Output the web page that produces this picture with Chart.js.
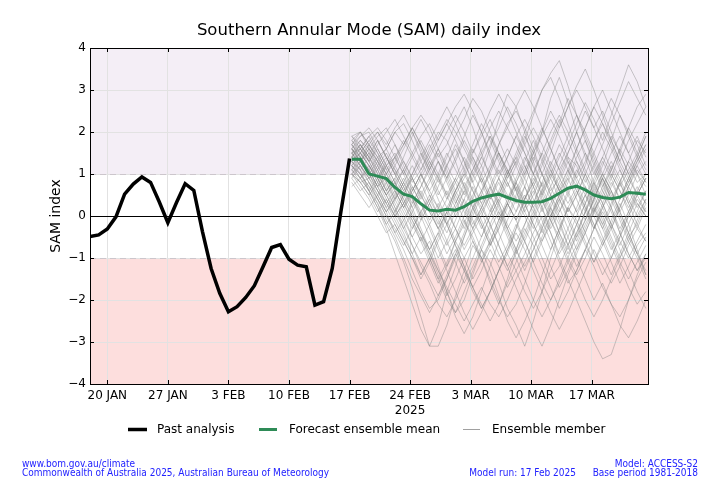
<!DOCTYPE html>
<html>
<head>
<meta charset="utf-8">
<script src="https://cdn.jsdelivr.net/npm/chart.js@4/dist/chart.umd.min.js"></script>
<style>
  html, body { margin: 0; padding: 0; background: #fff; }
  #wrap { position: relative; width: 720px; height: 480px; }
  .foot { position: absolute; color: #2222ff; font-family: "DejaVu Sans Condensed", "DejaVu Sans", sans-serif; font-size: 10px; line-height: 9px; white-space: nowrap; }
</style>
</head>
<body>
<div id="wrap">
  <canvas id="sam_chart" width="720" height="480"></canvas>
  <div class="foot" style="left:22px; top:458.5px;">www.bom.gov.au/climate<br>Commonwealth of Australia 2025, Australian Bureau of Meteorology</div>
  <div class="foot" style="right:144px; top:467.5px; text-align:right;">Model run: 17 Feb 2025</div>
  <div class="foot" style="right:22px; top:458.5px; text-align:right;">Model: ACCESS-S2<br>Base period 1981-2018</div>
</div>
<script>
// days counted from 18 Jan 2025
const tickDays = [2, 9, 16, 23, 30, 37, 44, 51, 58];
const tickLabels = ['20 JAN', '27 JAN', '3 FEB', '10 FEB', '17 FEB', ['24 FEB', '2025'], '3 MAR', '10 MAR', '17 MAR'];
const forecastStart = 30.25;

// past analysis, 18 Jan - 17 Feb
const pastAnalysis = [-0.49, -0.45, -0.31, -0.02, 0.52, 0.76, 0.93, 0.80, 0.34, -0.16, 0.32, 0.77, 0.61, -0.37,
  -1.25, -1.84, -2.28, -2.16, -1.94, -1.66, -1.21, -0.75, -0.68, -1.03, -1.17, -1.21, -2.12, -2.04, -1.25, 0.10, 1.37];

// forecast ensemble mean, 17 Feb - 23 Mar
const ensembleMean = [1.35, 1.35, 1.00, 0.95, 0.89, 0.68, 0.52, 0.46, 0.29, 0.14, 0.12, 0.16, 0.14, 0.22, 0.35, 0.43,
  0.48, 0.52, 0.44, 0.37, 0.33, 0.33, 0.34, 0.42, 0.54, 0.66, 0.71, 0.62, 0.50, 0.44, 0.41, 0.45, 0.56, 0.54, 0.52];

// ensemble members (a subset), 17 Feb - 23 Mar
const members = [
  [1.5, 1.8, 1.6, 1.9, 2.1, 1.7, 1.2, 0.8, 1.1, 1.6, 2.0, 1.8, 1.3, 0.7, 0.2, 0.5, 1.1, 1.7, 2.2, 2.5, 2.1, 1.6, 1.0, 0.6, 0.9, 1.4, 1.2, 0.6, 0.1, -0.3, 0.2, 0.8, 1.3, 1.0, 0.7],
  [1.2, 1.0, 0.7, 0.3, -0.2, -0.6, -1.1, -1.7, -2.4, -3.1, -2.6, -1.8, -1.2, -0.5, 0.1, 0.6, 0.2, -0.4, -0.9, -0.3, 0.4, 1.0, 1.5, 1.1, 0.6, 0.9, 1.4, 1.8, 1.3, 0.8, 0.2, -0.4, -0.9, -1.3, -1.0],
  [1.9, 2.0, 1.7, 1.4, 1.6, 2.0, 2.2, 1.8, 1.3, 0.9, 0.4, -0.1, -0.6, -0.2, 0.4, 1.0, 1.6, 2.3, 2.9, 2.6, 2.0, 1.3, 0.7, 0.2, -0.4, -0.9, -0.5, 0.1, 0.7, 1.2, 1.8, 2.4, 2.0, 1.5, 1.1],
  [1.0, 0.8, 0.9, 0.5, 0.1, 0.4, 0.0, -0.5, -0.9, -0.6, -1.2, -1.8, -2.3, -2.0, -1.4, -0.8, -1.1, -1.6, -2.2, -2.6, -3.1, -2.5, -1.8, -1.0, -0.4, 0.2, -0.1, -0.6, -1.1, -0.7, -0.2, 0.3, -0.2, -0.8, -1.4],
  [1.6, 1.3, 1.5, 1.1, 0.6, 0.9, 1.4, 1.9, 2.3, 1.9, 1.4, 1.7, 2.2, 2.6, 2.1, 1.5, 0.9, 0.3, -0.3, 0.1, 0.7, 1.3, 2.0, 2.8, 3.3, 2.7, 2.0, 1.4, 0.8, 0.4, 0.9, 1.5, 2.1, 2.6, 2.9],
  [1.4, 1.1, 0.6, 0.2, -0.3, -0.9, -1.5, -2.1, -2.7, -3.1, -3.1, -2.6, -1.9, -1.3, -0.7, -1.0, -1.6, -2.1, -1.5, -0.8, -0.2, 0.3, 0.8, 0.4, -0.1, -0.7, -1.2, -0.8, -0.3, 0.2, 0.6, 0.1, -0.4, -0.9, -0.5],
  [1.3, 1.5, 1.2, 0.9, 1.2, 0.8, 0.3, 0.6, 1.0, 0.5, 0.0, -0.4, 0.1, 0.6, 1.1, 1.5, 1.9, 1.4, 0.9, 1.3, 1.8, 2.4, 3.0, 3.4, 3.7, 3.1, 2.4, 1.8, 1.2, 0.7, 1.1, 1.6, 1.2, 0.8, 1.0],
  [0.8, 0.5, 0.2, 0.5, 0.1, -0.4, -0.8, -1.3, -1.8, -2.2, -2.0, -1.5, -0.9, -0.4, 0.2, -0.2, -0.7, -0.3, 0.3, 0.8, 1.2, 0.7, 0.2, -0.4, -1.0, -1.5, -2.0, -2.5, -3.0, -3.4, -3.3, -2.7, -2.0, -1.4, -0.9],
  [1.7, 1.9, 2.0, 1.6, 1.2, 1.4, 1.0, 0.5, 0.1, 0.4, 0.9, 1.4, 1.9, 2.3, 2.8, 2.5, 2.0, 1.5, 1.0, 0.6, 0.1, -0.3, 0.2, 0.7, 1.2, 1.7, 2.2, 2.7, 2.3, 1.8, 2.4, 3.0, 3.6, 3.2, 2.6],
  [1.1, 0.9, 1.1, 0.7, 0.3, 0.0, 0.3, -0.1, -0.6, -1.1, -1.6, -1.2, -0.6, -0.1, -0.5, -1.0, -1.5, -2.0, -2.4, -2.1, -1.6, -1.0, -0.5, 0.0, 0.4, 0.0, -0.5, -0.1, 0.4, 0.9, 0.5, 0.0, -0.5, -0.2, 0.3],
  [1.5, 1.6, 1.9, 2.1, 1.8, 1.4, 1.7, 2.1, 1.7, 1.2, 0.8, 1.2, 1.6, 1.1, 0.6, 0.1, -0.4, -0.9, -1.3, -0.9, -0.4, 0.1, 0.6, 1.0, 0.6, 0.1, 0.5, 1.0, 1.5, 2.0, 1.6, 1.1, 0.6, 0.2, 0.6],
  [1.3, 1.0, 0.6, 0.9, 0.5, 0.8, 0.4, 0.0, -0.4, -0.8, -1.3, -1.8, -2.4, -2.8, -2.4, -1.8, -1.2, -0.6, -0.1, 0.4, 0.0, -0.5, -1.0, -1.5, -1.2, -0.7, -0.2, 0.3, 0.8, 1.3, 0.9, 0.4, 0.8, 1.3, 1.7],
  [1.8, 1.6, 1.3, 1.7, 2.0, 2.3, 1.9, 1.5, 1.1, 1.5, 1.9, 2.3, 2.0, 1.6, 1.2, 0.8, 1.2, 1.7, 2.1, 1.7, 1.2, 0.7, 0.2, -0.3, 0.1, 0.6, 1.1, 0.7, 0.2, -0.3, -0.8, -0.4, 0.1, 0.6, 0.3],
  [1.2, 1.4, 1.1, 0.7, 0.9, 0.5, 0.1, -0.3, 0.1, 0.5, 0.2, -0.2, -0.7, -1.2, -1.7, -2.2, -1.8, -1.3, -0.8, -0.3, 0.2, 0.7, 1.2, 1.7, 2.2, 2.8, 2.4, 1.9, 1.4, 0.9, 0.4, 0.8, 1.3, 1.8, 1.5],
  [0.9, 1.2, 0.8, 0.4, 0.0, -0.4, -0.1, 0.3, 0.7, 1.1, 1.6, 2.0, 2.4, 2.0, 1.5, 1.9, 2.3, 1.8, 1.3, 0.8, 0.3, -0.2, -0.7, -1.2, -1.7, -1.3, -0.8, -0.3, 0.2, -0.2, -0.7, -1.2, -1.7, -2.1, -1.8],
  [1.6, 1.4, 1.0, 1.3, 0.9, 0.4, 0.8, 1.2, 0.8, 0.3, -0.2, 0.2, 0.6, 1.0, 0.6, 0.2, 0.6, 1.1, 0.7, 1.2, 1.7, 2.1, 1.7, 1.2, 0.7, 0.3, 0.7, 1.2, 1.8, 2.3, 2.8, 2.4, 1.9, 1.4, 1.0],
  [1.4, 1.7, 1.4, 1.0, 0.6, 0.2, -0.2, -0.7, -1.2, -1.6, -2.1, -2.4, -2.0, -1.5, -1.0, -0.5, 0.0, 0.4, 0.9, 1.3, 0.9, 0.4, -0.1, -0.6, -1.1, -1.6, -1.3, -0.8, -1.2, -1.7, -2.1, -2.4, -2.0, -1.5, -1.1],
  [1.1, 1.3, 1.6, 1.3, 1.6, 2.0, 1.7, 2.1, 2.4, 2.1, 1.6, 1.1, 0.6, 0.2, -0.3, 0.1, 0.5, 0.1, -0.4, -0.9, -0.5, 0.0, 0.5, 1.0, 1.5, 1.1, 0.6, 0.1, 0.5, 1.0, 0.6, 0.1, -0.4, -0.9, -1.4],
  [1.7, 1.4, 1.1, 0.7, 1.0, 0.6, 0.2, 0.5, 0.0, -0.5, -1.0, -0.6, -0.1, 0.4, 0.9, 1.4, 1.0, 0.5, 1.0, 1.5, 2.0, 2.5, 3.0, 3.3, 2.8, 2.2, 1.6, 1.1, 0.7, 0.3, -0.2, -0.6, -1.0, -0.6, -0.2],
  [1.0, 0.7, 0.4, 0.0, -0.4, -0.2, -0.6, -1.0, -1.4, -1.0, -0.5, 0.0, 0.5, 0.1, -0.3, -0.8, -1.3, -1.9, -2.5, -2.9, -2.5, -2.0, -1.4, -0.8, -0.3, 0.2, 0.6, 0.2, -0.2, -0.6, -1.1, -1.6, -1.2, -0.7, -0.4],
  [1.5, 1.2, 1.5, 1.8, 1.4, 1.0, 1.3, 0.9, 0.4, 0.8, 1.3, 0.9, 0.4, -0.1, -0.6, -1.1, -0.7, -0.2, 0.3, -0.1, 0.4, 0.9, 0.5, 0.0, 0.5, 1.0, 1.6, 2.1, 2.6, 2.2, 1.7, 1.2, 0.8, 1.2, 1.6],
  [1.3, 1.1, 0.8, 0.5, 0.8, 1.2, 1.6, 2.0, 1.6, 1.1, 1.5, 1.0, 0.5, 0.9, 1.4, 1.0, 0.5, 0.0, -0.5, -1.0, -1.5, -2.0, -2.4, -2.0, -1.5, -1.0, -0.4, 0.1, -0.3, 0.2, 0.7, 1.1, 0.7, 0.3, 0.0],
  [1.8, 2.0, 1.6, 1.2, 0.8, 0.4, 0.7, 0.2, -0.3, -0.8, -0.4, 0.1, 0.6, 1.0, 1.5, 2.0, 2.5, 2.9, 2.5, 2.0, 1.5, 1.0, 0.5, 0.9, 1.4, 1.9, 2.4, 2.0, 1.5, 1.0, 0.6, 0.1, 0.5, 1.0, 1.3],
  [0.7, 0.9, 0.6, 0.3, -0.1, -0.5, -1.0, -1.5, -1.9, -2.3, -1.9, -1.4, -0.9, -1.3, -1.8, -2.2, -1.8, -1.3, -0.8, -0.4, -0.8, -1.3, -1.8, -2.3, -2.7, -2.3, -1.8, -1.3, -0.8, -1.2, -1.6, -1.2, -0.7, -0.3, -0.6],
  [1.4, 1.3, 1.0, 0.6, 0.2, 0.5, 0.9, 0.5, 0.9, 1.3, 0.9, 0.4, 0.8, 0.3, -0.2, 0.2, 0.7, 0.3, -0.2, -0.6, -0.2, 0.3, 0.8, 1.3, 0.9, 0.5, 0.1, -0.4, -0.9, -1.4, -1.0, -0.5, 0.0, 0.4, 0.1],
  [1.6, 1.9, 2.1, 1.8, 1.4, 1.1, 0.7, 1.0, 1.4, 1.8, 2.2, 2.6, 2.2, 1.7, 1.3, 0.8, 0.3, -0.1, 0.3, 0.8, 0.4, 0.8, 1.3, 1.8, 2.3, 1.8, 1.3, 0.8, 1.2, 1.7, 2.2, 2.7, 3.2, 2.8, 2.4],
  [1.2, 0.9, 1.2, 0.8, 0.4, 0.0, -0.4, -0.9, -1.4, -1.0, -1.5, -2.0, -2.3, -1.8, -1.3, -0.8, -0.3, 0.1, -0.3, -0.8, -1.2, -0.8, -0.3, 0.2, 0.7, 1.1, 0.7, 0.2, -0.3, 0.1, -0.3, -0.8, -1.3, -1.8, -2.2],
  [1.5, 1.7, 1.3, 1.6, 1.2, 0.8, 1.1, 1.5, 1.9, 2.2, 1.8, 2.2, 2.6, 2.9, 2.5, 2.0, 1.5, 1.0, 1.4, 1.9, 1.5, 1.0, 0.6, 0.1, -0.4, -0.8, -0.4, 0.1, 0.6, 0.2, -0.3, 0.2, 0.7, 1.1, 0.8],
  [1.0, 1.2, 0.9, 1.2, 0.8, 0.3, -0.1, -0.5, -0.1, 0.3, -0.1, -0.6, -1.1, -1.6, -1.2, -0.7, -0.2, 0.3, 0.8, 0.4, 0.9, 1.4, 1.0, 0.5, 0.1, 0.5, 1.0, 1.5, 1.1, 0.6, 0.2, -0.3, 0.1, 0.5, 0.9],
  [1.9, 1.7, 1.4, 1.1, 1.4, 1.0, 0.6, 0.2, 0.6, 0.2, -0.3, -0.7, -0.3, 0.2, 0.7, 0.3, -0.2, -0.7, -1.2, -1.7, -2.2, -2.7, -3.1, -2.6, -2.0, -1.4, -0.9, -0.4, 0.1, 0.5, 0.1, -0.4, -0.9, -1.3, -0.9],
  [1.3, 1.6, 1.9, 1.5, 1.1, 1.4, 1.8, 1.4, 1.0, 0.6, 1.0, 1.5, 1.1, 0.7, 1.1, 1.6, 2.1, 2.5, 2.1, 2.6, 3.0, 2.6, 2.1, 1.6, 1.1, 1.5, 2.0, 2.5, 2.1, 1.6, 1.1, 0.7, 1.1, 1.5, 2.0],
  [1.1, 0.8, 0.5, 0.1, 0.4, 0.0, 0.3, 0.7, 0.3, -0.2, -0.7, -1.2, -0.8, -1.3, -1.7, -1.3, -0.8, -1.2, -1.7, -1.3, -0.9, -0.4, 0.0, -0.4, -0.9, -0.5, 0.0, 0.5, 0.1, 0.5, 1.0, 0.6, 0.1, -0.3, 0.2],
  [1.7, 1.5, 1.8, 2.0, 1.6, 1.2, 0.8, 0.4, 0.0, 0.4, 0.0, 0.4, 0.9, 1.4, 1.0, 0.6, 1.0, 1.5, 1.1, 0.6, 0.1, 0.5, 1.0, 1.5, 2.1, 2.6, 3.1, 3.5, 3.0, 2.4, 1.8, 1.3, 0.9, 1.3, 1.7],
  [1.4, 1.2, 0.9, 0.6, 0.2, -0.2, -0.6, -1.0, -1.5, -1.1, -0.6, -0.2, 0.2, 0.6, 0.2, -0.3, 0.1, 0.5, 1.0, 1.4, 1.9, 1.5, 1.0, 0.5, 0.0, -0.5, -1.0, -1.5, -2.0, -1.6, -2.1, -2.6, -2.9, -2.5, -2.0],
  [1.2, 1.5, 1.2, 0.9, 1.3, 1.7, 1.3, 0.9, 0.5, 0.1, -0.3, 0.1, -0.3, -0.8, -0.4, 0.0, 0.5, 0.9, 0.5, 0.1, 0.5, 0.1, -0.4, 0.0, 0.5, 0.1, 0.5, 1.0, 0.6, 1.0, 1.5, 1.9, 1.5, 1.0, 0.5],
  [1.6, 1.3, 1.1, 1.4, 1.0, 0.7, 0.3, -0.1, -0.5, -0.9, -1.3, -1.7, -2.1, -2.5, -2.1, -1.7, -2.1, -2.4, -2.0, -1.5, -1.1, -0.6, -0.2, 0.3, 0.8, 1.3, 0.9, 0.5, 0.9, 1.4, 1.0, 0.6, 0.2, 0.6, 1.0],
  [1.0, 1.3, 1.7, 2.0, 1.7, 2.1, 2.4, 2.0, 1.5, 1.0, 0.5, 0.9, 1.4, 1.9, 2.4, 2.0, 1.4, 0.9, 0.4, 0.8, 1.3, 1.8, 1.3, 0.7, 0.2, -0.3, -0.8, -0.4, 0.1, 0.6, 1.1, 1.6, 2.1, 1.7, 1.2],
  [1.5, 1.2, 0.9, 1.1, 0.7, 0.2, -0.3, 0.1, -0.4, -0.9, -1.4, -1.9, -1.5, -1.0, -0.6, -1.0, -0.6, -0.1, 0.4, 0.9, 1.4, 1.0, 1.5, 2.0, 2.4, 2.0, 1.5, 1.0, 0.5, 0.0, -0.5, -1.0, -0.6, -0.1, 0.4],
  [1.8, 1.5, 1.2, 0.8, 0.5, 0.1, 0.5, 1.0, 1.5, 1.1, 0.6, 0.2, -0.3, -0.7, -0.3, 0.2, -0.2, -0.7, -1.2, -0.8, -0.3, -0.7, -1.2, -1.7, -2.2, -1.8, -1.3, -0.8, -0.3, 0.3, 0.8, 0.4, 0.9, 1.4, 1.9],
  [1.3, 1.1, 1.4, 1.0, 0.6, 0.9, 0.5, 0.9, 1.3, 1.7, 1.3, 0.8, 0.3, 0.7, 0.3, -0.2, -0.7, -0.3, 0.2, 0.7, 0.3, -0.2, -0.6, -0.2, 0.3, 0.8, 1.3, 0.9, 0.4, -0.1, -0.6, -1.1, -1.5, -1.1, -0.7],
  [0.9, 0.6, 0.8, 0.4, 0.0, -0.3, -0.7, -0.3, 0.1, -0.3, -0.8, -1.3, -1.8, -2.3, -2.7, -2.3, -1.8, -1.3, -0.9, -1.3, -1.8, -2.2, -1.8, -1.3, -0.8, -0.3, 0.2, 0.7, 0.3, -0.2, 0.3, 0.8, 0.3, -0.2, -0.6],
  [1.6, 1.8, 1.5, 1.2, 1.5, 1.1, 0.7, 0.3, 0.7, 1.2, 1.6, 1.2, 0.8, 1.2, 1.7, 2.2, 1.8, 1.3, 0.8, 0.3, 0.7, 0.2, -0.3, -0.8, -0.3, 0.2, -0.2, -0.7, -1.1, -0.6, -0.1, 0.4, 0.9, 0.5, 0.9],
  [1.2, 1.0, 0.7, 0.4, 0.1, 0.4, 0.8, 0.4, -0.1, 0.3, 0.7, 1.2, 1.7, 1.3, 0.8, 1.2, 1.7, 2.1, 2.6, 2.2, 1.7, 1.2, 0.7, 1.2, 1.7, 1.3, 0.8, 0.3, -0.2, -0.7, -0.3, 0.2, 0.7, 1.2, 0.8],
  [1.4, 1.6, 1.3, 0.9, 0.5, 0.8, 0.4, 0.0, -0.4, -0.8, -0.4, -0.9, -0.5, 0.0, 0.5, 0.9, 0.4, 0.8, 0.3, -0.1, -0.6, -1.1, -1.6, -2.0, -1.6, -1.1, -1.5, -2.0, -2.4, -2.0, -1.5, -1.0, -0.5, -0.9, -1.3],
  [1.7, 2.0, 1.7, 1.3, 1.0, 1.3, 1.7, 2.1, 1.7, 1.3, 0.9, 0.5, 0.9, 0.5, 1.0, 1.4, 1.9, 1.5, 1.0, 1.4, 1.0, 1.5, 2.0, 2.5, 2.1, 2.6, 3.0, 2.6, 2.1, 2.5, 2.0, 1.5, 1.0, 1.4, 1.9],
  [1.1, 1.4, 1.0, 0.6, 0.3, -0.1, -0.5, -0.9, -0.5, -1.0, -1.5, -1.1, -0.6, -1.0, -1.5, -1.1, -0.6, -0.1, 0.3, -0.1, 0.4, 0.8, 0.4, -0.1, -0.6, -1.1, -0.7, -0.2, 0.2, 0.7, 1.2, 0.8, 0.3, 0.7, 0.3],
  [1.5, 1.3, 1.6, 1.3, 0.9, 0.6, 0.2, 0.6, 1.0, 0.6, 0.2, 0.6, 0.2, -0.3, 0.2, 0.6, 1.1, 1.5, 1.1, 0.6, 1.1, 1.6, 2.1, 1.6, 1.1, 0.6, 0.1, 0.5, 0.0, -0.5, -1.0, -0.5, 0.0, 0.5, 0.9],
  [1.9, 1.6, 1.3, 0.9, 0.5, 0.1, -0.3, -0.7, -1.1, -1.5, -1.9, -1.5, -1.0, -0.5, 0.0, 0.5, 0.1, 0.6, 1.1, 0.7, 0.2, 0.6, 0.1, 0.5, 1.0, 1.5, 2.0, 1.5, 1.0, 1.4, 1.9, 1.5, 1.0, 0.5, 0.1],
  [1.3, 1.5, 1.8, 1.5, 1.1, 0.7, 1.1, 0.7, 0.3, -0.1, 0.3, -0.2, -0.7, -1.2, -1.7, -2.1, -2.5, -2.1, -1.6, -1.1, -0.6, -0.1, 0.4, -0.1, -0.5, -1.0, -1.4, -1.0, -0.5, -0.9, -1.4, -0.9, -0.4, 0.1, 0.6],
  [1.0, 0.8, 0.5, 0.8, 1.2, 1.5, 1.1, 0.6, 1.0, 1.4, 1.0, 0.5, 0.0, 0.4, -0.1, -0.5, 0.0, 0.4, 0.0, 0.5, 1.0, 1.5, 1.9, 2.3, 1.9, 1.4, 0.9, 1.3, 1.8, 2.2, 1.8, 1.3, 1.8, 2.2, 2.6],
  [1.6, 1.3, 1.0, 0.7, 0.3, 0.6, 0.2, -0.2, -0.6, -0.2, 0.2, -0.2, 0.3, 0.8, 0.4, -0.1, -0.6, -1.1, -0.7, -0.2, -0.6, -1.1, -0.6, -0.1, 0.4, -0.1, -0.6, -0.1, 0.4, 0.9, 0.4, -0.1, -0.6, -1.0, -1.5],
  [1.4, 1.7, 1.4, 1.8, 1.4, 1.0, 0.6, 0.9, 0.5, 0.9, 1.3, 0.9, 1.3, 1.8, 1.4, 0.9, 0.4, 0.9, 1.4, 1.9, 2.3, 1.9, 1.4, 0.9, 0.4, 0.9, 0.4, -0.1, 0.4, 0.9, 1.3, 0.9, 0.4, 0.0, 0.4],
  [1.2, 0.9, 0.6, 0.2, -0.2, 0.1, 0.5, 0.1, 0.5, 0.1, -0.3, 0.1, 0.6, 1.1, 1.6, 1.2, 0.7, 0.2, -0.3, -0.8, -1.3, -0.8, -0.3, 0.2, -0.2, -0.7, -0.2, 0.3, 0.8, 0.3, -0.2, -0.7, -0.2, 0.3, 0.0],
  [1.7, 1.4, 1.7, 1.4, 1.0, 1.4, 1.0, 1.4, 1.8, 1.4, 1.8, 2.2, 1.8, 1.3, 0.8, 0.3, 0.7, 1.2, 1.6, 1.2, 0.7, 0.2, 0.6, 1.1, 0.6, 1.1, 1.6, 2.1, 2.6, 3.0, 2.5, 2.0, 1.5, 1.9, 1.4]
];

const font = '"DejaVu Sans", sans-serif';

// bands, zero line, inward ticks, frame, titles and legend
const decorations = {
  id: 'decorations',
  beforeDraw(chart) {
    const { ctx, chartArea: a, scales: { y } } = chart;
    ctx.save();
    ctx.fillStyle = '#f4eef6';
    ctx.fillRect(a.left, y.getPixelForValue(4), a.width, y.getPixelForValue(1) - y.getPixelForValue(4));
    ctx.fillStyle = '#fddedd';
    ctx.fillRect(a.left, y.getPixelForValue(-1), a.width, y.getPixelForValue(-4) - y.getPixelForValue(-1));
    ctx.restore();
  },
  beforeDatasetsDraw(chart) {
    const { ctx, chartArea: a, scales: { y } } = chart;
    ctx.save();
    ctx.strokeStyle = 'rgba(190,180,190,0.6)';
    ctx.lineWidth = 1;
    ctx.setLineDash([6, 4]);
    [1, -1].forEach(v => {
      const py = Math.round(y.getPixelForValue(v)) + 0.5;
      ctx.beginPath(); ctx.moveTo(a.left, py); ctx.lineTo(a.right, py); ctx.stroke();
    });
    ctx.setLineDash([]);
    ctx.strokeStyle = '#000';
    const py0 = Math.round(y.getPixelForValue(0)) + 0.5;
    ctx.beginPath(); ctx.moveTo(a.left, py0); ctx.lineTo(a.right, py0); ctx.stroke();
    ctx.restore();
  },
  afterDraw(chart) {
    const { ctx, chartArea: a, scales: { x, y } } = chart;
    ctx.save();
    ctx.strokeStyle = '#000';
    ctx.lineWidth = 1;
    ctx.beginPath();
    tickDays.forEach(d => {
      const px = Math.round(x.getPixelForValue(d)) + 0.5;
      ctx.moveTo(px, a.bottom); ctx.lineTo(px, a.bottom - 4);
      ctx.moveTo(px, a.top); ctx.lineTo(px, a.top + 4);
    });
    for (let v = -3; v <= 3; v++) {
      const py = Math.round(y.getPixelForValue(v)) + 0.5;
      ctx.moveTo(a.left, py); ctx.lineTo(a.left + 4, py);
      ctx.moveTo(a.right, py); ctx.lineTo(a.right - 4, py);
    }
    ctx.stroke();
    ctx.strokeRect(Math.round(a.left) + 0.5, Math.round(a.top) + 0.5, Math.round(a.width), Math.round(a.height));

    ctx.fillStyle = '#000';
    ctx.textBaseline = 'middle';
    ctx.textAlign = 'center';
    ctx.font = '16.5px ' + font;
    ctx.fillText('Southern Annular Mode (SAM) daily index', (a.left + a.right) / 2, 31);

    ctx.save();
    ctx.translate(56, (a.top + a.bottom) / 2);
    ctx.rotate(-Math.PI / 2);
    ctx.font = '14px ' + font;
    ctx.fillText('SAM index', 0, 0);
    ctx.restore();

    // legend
    const items = [
      { x1: 128, x2: 147, tx: 157, color: '#000', w: 3.5, text: 'Past analysis' },
      { x1: 259, x2: 277, tx: 289, color: '#2e8b57', w: 3, text: 'Forecast ensemble mean' },
      { x1: 463, x2: 480, tx: 492, color: '#a0a0a0', w: 1, text: 'Ensemble member' }
    ];
    ctx.font = '12px ' + font;
    ctx.textAlign = 'left';
    items.forEach(it => {
      ctx.strokeStyle = it.color;
      ctx.lineWidth = it.w;
      ctx.beginPath(); ctx.moveTo(it.x1, 429.5); ctx.lineTo(it.x2, 429.5); ctx.stroke();
      ctx.fillText(it.text, it.tx, 429.5);
    });
    ctx.restore();
  }
};

const datasets = [
  {
    label: 'Past analysis',
    data: pastAnalysis.map((v, i) => ({ x: i, y: v })),
    borderColor: '#000',
    borderWidth: 3.5,
    pointRadius: 0,
    tension: 0
  },
  {
    label: 'Forecast ensemble mean',
    data: ensembleMean.map((v, i) => ({ x: forecastStart + i, y: v })),
    borderColor: '#2e8b57',
    borderWidth: 3,
    pointRadius: 0,
    tension: 0
  }
];
members.forEach((m, k) => {
  datasets.push({
    label: 'Ensemble member ' + (k + 1),
    data: m.map((v, i) => ({ x: forecastStart + i, y: v })),
    borderColor: 'rgba(128,128,128,0.42)',
    borderWidth: 1,
    pointRadius: 0,
    tension: 0
  });
});

const ctx = document.getElementById('sam_chart').getContext('2d');
const samChart = new Chart(ctx, {
  type: 'line',
  data: { datasets: datasets },
  plugins: [decorations],
  options: {
    responsive: false,
    animation: false,
    devicePixelRatio: 1,
    layout: { padding: { left: 0, top: 48, right: 72, bottom: 56 } },
    plugins: {
      legend: { display: false },
      title: { display: false },
      tooltip: { enabled: false }
    },
    scales: {
      x: {
        type: 'linear',
        min: 0,
        max: 64.5,
        afterFit: s => { s.height = 40; },
        afterBuildTicks: s => { s.ticks = tickDays.map(d => ({ value: d })); },
        grid: { color: '#e2e2e2', drawTicks: false },
        border: { display: false },
        ticks: {
          autoSkip: false,
          maxRotation: 0,
          padding: 5,
          color: '#000',
          font: { family: font, size: 12 },
          callback: (v, i) => tickLabels[i]
        }
      },
      y: {
        min: -4,
        max: 4,
        afterFit: s => { s.width = 90; },
        grid: { color: '#e2e2e2', drawTicks: false },
        border: { display: false },
        ticks: {
          stepSize: 1,
          padding: 4,
          color: '#000',
          font: { family: font, size: 12 },
          callback: v => (v < 0 ? '\u2212' + Math.abs(v) : String(v))
        }
      }
    }
  }
});
</script>
</body>
</html>
